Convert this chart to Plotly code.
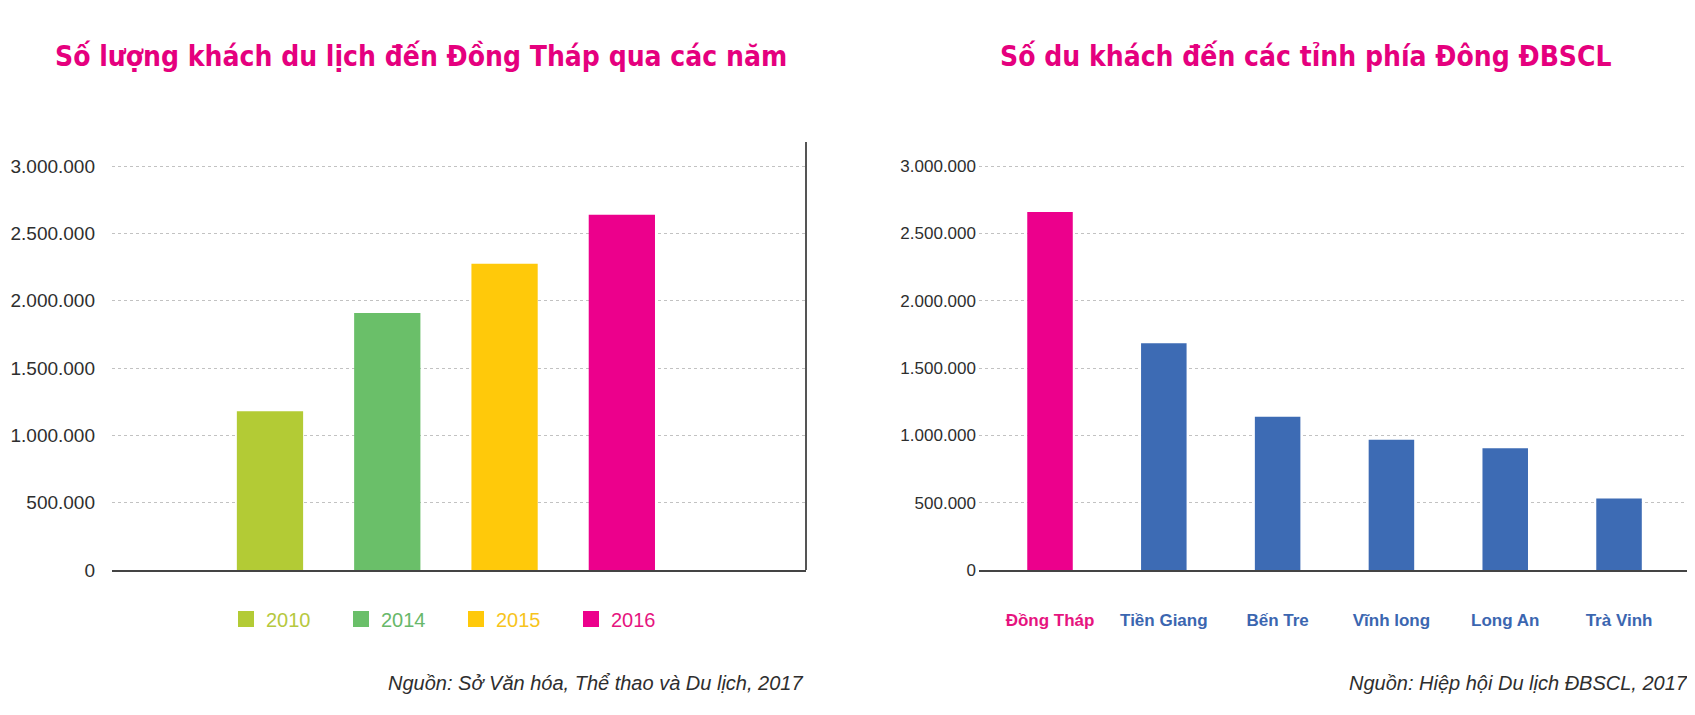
import plotly.graph_objects as go

# ---------------- data ----------------
years = ["2010", "2014", "2015", "2016"]
visitors_by_year = [1180000, 1910000, 2275000, 2640000]

provinces = ["Đồng Tháp", "Tiền Giang", "Bến Tre", "Vĩnh long", "Long An", "Trà Vinh"]
visitors_by_province = [2660000, 1685000, 1138000, 967000, 905000, 531000]

y_tick_values = [0, 500000, 1000000, 1500000, 2000000, 2500000, 3000000]

title_left = "Số lượng khách du lịch đến Đồng Tháp qua các năm"
title_right = "Số du khách đến các tỉnh phía Đông ĐBSCL"
source_left = "Nguồn: Sở Văn hóa, Thể thao và Du lịch, 2017"
source_right = "Nguồn: Hiệp hội Du lịch ĐBSCL, 2017"

# ---------------- styles ----------------
year_colors = ["#b3cb35", "#6abf69", "#ffc90a", "#ec008c"]
year_text_colors = ["#b6c83e", "#68b86a", "#f7c41c", "#e6147f"]
province_colors = ["#ec008c", "#3d6bb4", "#3d6bb4", "#3d6bb4", "#3d6bb4", "#3d6bb4"]
province_label_colors = ["#e6147f", "#3b66b0", "#3b66b0", "#3b66b0", "#3b66b0", "#3b66b0"]
PINK = "#e5007e"
TXT_FONT = "Liberation Sans, Arial, sans-serif"
TITLE_FONT = "DejaVu Sans Condensed, Liberation Sans, Arial, sans-serif"

# the page body has an 8px default margin, so the figure is offset by 8px
OFF = 8
W, H = 1695 - OFF, 715 - OFF

def px_x(p):
    return (p - OFF) / W

def px_y(p):
    return (H - (p - OFF)) / H

fig = go.Figure()

# left chart bars (one trace per year)
for yr, val, col in zip(years, visitors_by_year, year_colors):
    fig.add_trace(go.Bar(
        x=[yr], y=[val], name=yr, marker=dict(color=col, line=dict(width=0)),
        width=0.565, showlegend=False, xaxis="x", yaxis="y",
    ))

# legend-only entries (bigger square symbols)
for yr, col, tcol in zip(years, year_colors, year_text_colors):
    fig.add_trace(go.Scatter(
        x=[None], y=[None], mode="markers", name=f"<span style='color:{tcol}'>{yr}</span>",
        marker=dict(symbol="square", size=16, color=col),
        xaxis="x", yaxis="y", showlegend=True,
    ))

# right chart bars
fig.add_trace(go.Bar(
    x=provinces, y=visitors_by_province, marker=dict(color=province_colors, line=dict(width=0)),
    width=0.4, showlegend=False, xaxis="x2", yaxis="y2",
))

ymax = 3180000
ydom = [px_y(570), px_y(142)]

common_y = dict(
    range=[0, ymax], tickvals=y_tick_values, tickformat=",",
    showgrid=True, gridcolor="#c2c2c2", griddash="dot", gridwidth=1,
    zeroline=False, showline=False, ticks="", domain=ydom, automargin=False,
)

ticktext_prov = [f"<span style='color:{c}'><b>{p}</b></span>" for p, c in zip(provinces, province_label_colors)]

fig.update_layout(
    width=W, height=H,
    margin=dict(l=0, r=0, t=0, b=0, autoexpand=False),
    paper_bgcolor="white", plot_bgcolor="white",
    separators=",.",
    barmode="overlay",
    showlegend=True,
    legend=dict(
        orientation="h", x=px_x(226), xanchor="left", y=px_y(619), yanchor="middle",
        font=dict(family=TXT_FONT, size=20, color="#333"),
        entrywidth=70, entrywidthmode="pixels", bgcolor="rgba(0,0,0,0)",
        itemclick=False, itemdoubleclick=False,
    ),
    xaxis=dict(
        domain=[px_x(112), px_x(806)], range=[-1.347, 4.57], anchor="y",
        showticklabels=False, showgrid=False, zeroline=False, automargin=False,
        showline=True, linecolor="#444", linewidth=2, ticks="",
        categoryorder="array", categoryarray=years,
    ),
    yaxis=dict(
        anchor="x", tickfont=dict(family=TXT_FONT, size=19, color="#2e2e2e"),
        ticklabelstandoff=16, **common_y,
    ),
    xaxis2=dict(
        domain=[px_x(979), px_x(1688)], range=[-0.624, 5.606], anchor="y2",
        tickvals=provinces, ticktext=ticktext_prov, showgrid=False, zeroline=False,
        showline=True, linecolor="#444", linewidth=2, ticks="", automargin=False,
        tickfont=dict(family=TXT_FONT, size=17), ticklabelstandoff=34,
        categoryorder="array", categoryarray=provinces,
    ),
    yaxis2=dict(
        anchor="x2", tickfont=dict(family=TXT_FONT, size=17, color="#2e2e2e"),
        ticklabelstandoff=2, **common_y,
    ),
    shapes=[
        dict(type="line", xref="x domain", yref="y domain", x0=1, x1=1, y0=0, y1=1,
             line=dict(color="#555", width=2)),
        dict(type="line", xref="x2 domain", yref="y2 domain", x0=1, x1=1, y0=0, y1=1,
             line=dict(color="#555", width=2)),
    ],
    annotations=[
        dict(text=f"<b>{title_left}</b>", x=px_x(421), y=px_y(57), xref="paper", yref="paper",
             xanchor="center", yanchor="middle", showarrow=False,
             font=dict(family=TITLE_FONT, size=28, color=PINK)),
        dict(text=f"<b>{title_right}</b>", x=px_x(1306), y=px_y(57), xref="paper", yref="paper",
             xanchor="center", yanchor="middle", showarrow=False,
             font=dict(family=TITLE_FONT, size=28, color=PINK)),
        dict(text=f"<i>{source_left}</i>", x=px_x(805), y=px_y(683), xref="paper", yref="paper",
             xanchor="right", yanchor="middle", showarrow=False,
             font=dict(family=TXT_FONT, size=20, color="#2e2e2e")),
        dict(text=f"<i>{source_right}</i>", x=px_x(1690), y=px_y(683), xref="paper", yref="paper",
             xanchor="right", yanchor="middle", showarrow=False,
             font=dict(family=TXT_FONT, size=20, color="#2e2e2e")),
    ],
)

fig.write_html("out.html")
